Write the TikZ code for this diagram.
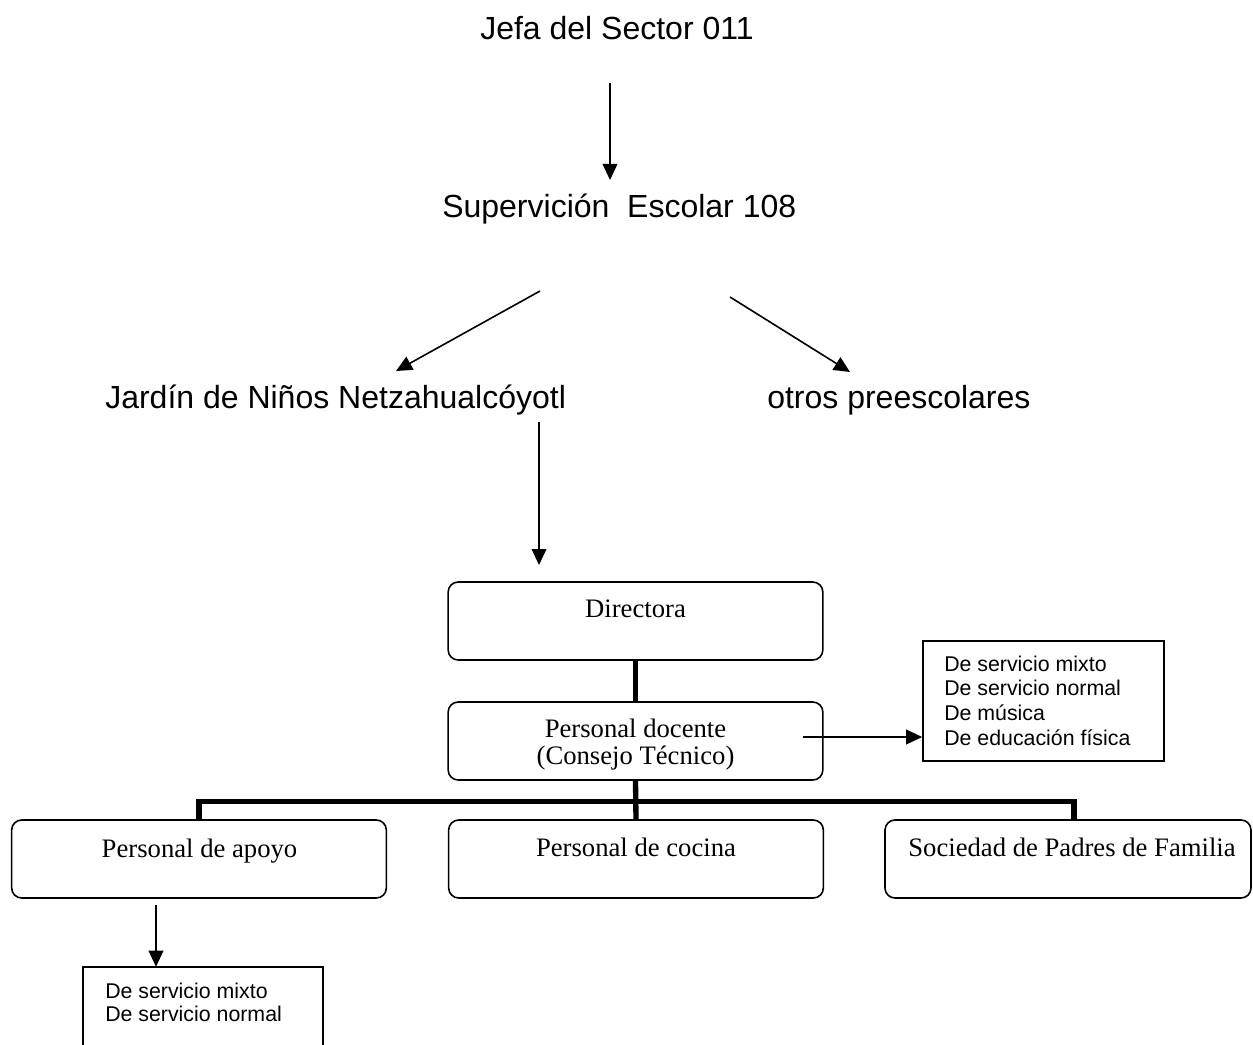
\documentclass[tikz,border=0pt]{standalone}
\usepackage{fontspec}
\setmainfont{Liberation Serif}
\newfontfamily\arialf{Liberation Sans}
\usetikzlibrary{arrows.meta}
\begin{document}
\begin{tikzpicture}[x=0.75pt,y=-0.75pt,
  big/.style={font=\arialf\fontsize{24}{28}\selectfont, inner sep=0, anchor=base west},
  small/.style={font=\arialf\fontsize{16}{18.5}\selectfont, inner sep=0, align=left, anchor=north west},
  smalltight/.style={font=\arialf\fontsize{16}{17.4}\selectfont, inner sep=0, align=left, anchor=north west},
  serif/.style={font=\fontsize{20}{28}\selectfont, inner sep=0, anchor=base},
  rbox/.style={draw, line width=1.2pt, rounded corners=7.5pt, minimum width=281pt, minimum height=58.5pt, inner sep=0},
  sqbox/.style={draw, line width=1.2pt, inner sep=0},
  arr/.style={line width=1.2pt, -{Triangle[length=12pt,width=11pt]}},
  bar/.style={line width=4pt, line join=miter}]
\useasboundingbox (0,0) rectangle (1253,1045);

% top texts
\node[big] (jefa) at (480,40) {Jefa del Sector 011};
\node[big] (sup) at (442,218) {Supervición\ \ Escolar 108};
\node[big] (jar) at (105,408) {Jardín de Niños Netzahualcóyotl};
\node[big] (otr) at (767,408) {otros preescolares};

% arrows between top texts
\coordinate (a1s) at (610,83);  \coordinate (a1e) at (610,180);
\coordinate (a2s) at (540,291); \coordinate (a2e) at (396,371);
\coordinate (a3s) at (730,297); \coordinate (a3e) at (850,372);
\coordinate (a4s) at (539,422); \coordinate (a4e) at (539,565);
\draw[arr] (a1s) -- (a1e);
\draw[arr] (a2s) -- (a2e);
\draw[arr] (a3s) -- (a3e);
\draw[arr] (a4s) -- (a4e);

% boxes
\node[rbox] (dir) at (635.5,621) {};
\node[rbox] (doc) at (635.5,741) {};
\node[rbox] (apo) at (199,859) {};
\node[rbox] (coc) at (636,859) {};
\node[rbox, minimum width=274.5pt] (soc) at (1068,859) {};
\node[sqbox, minimum width=180.75pt, minimum height=90pt] (side) at (1043.5,701) {};
\node[minimum width=180pt, minimum height=69.75pt, inner sep=0] (bot) at (203,1013.5) {};
\draw[line width=1.2pt] (bot.south west) |- (bot.north east) -- (bot.south east);

% box texts
\node[serif] (dirt) at (635.5,617) {Directora};
\node[serif] (doct1) at (635.5,737) {Personal docente};
\node[serif] (doct2) at (635.5,764) {(Consejo Técnico)};
\node[serif] (apot) at (199.5,857) {Personal de apoyo};
\node[serif] (coct) at (636,856) {Personal de cocina};
\node[serif] (soct) at (1072,856) {Sociedad de Padres de Familia};
\node[small] (sidet) at (944,655.5) {De servicio mixto\\De servicio normal\\De música\\De educación física};
\node[smalltight] (bott) at (105,982.7) {De servicio mixto\\De servicio normal};

% thick org lines
\draw[bar] (dir.south) -- (doc.north);
\draw[bar] (doc.south) -- (coc.north);
\draw[bar] (apo.north) -- ++(0,-18) -| ([xshift=4.5pt]soc.north);

% side arrows
\coordinate (a5s) at (803,737);
\draw[arr] (a5s) -- (a5s -| side.west);
\coordinate (a6s) at (156,905);
\draw[arr] (a6s) -- (a6s |- bot.north);
\end{tikzpicture}
\end{document}
